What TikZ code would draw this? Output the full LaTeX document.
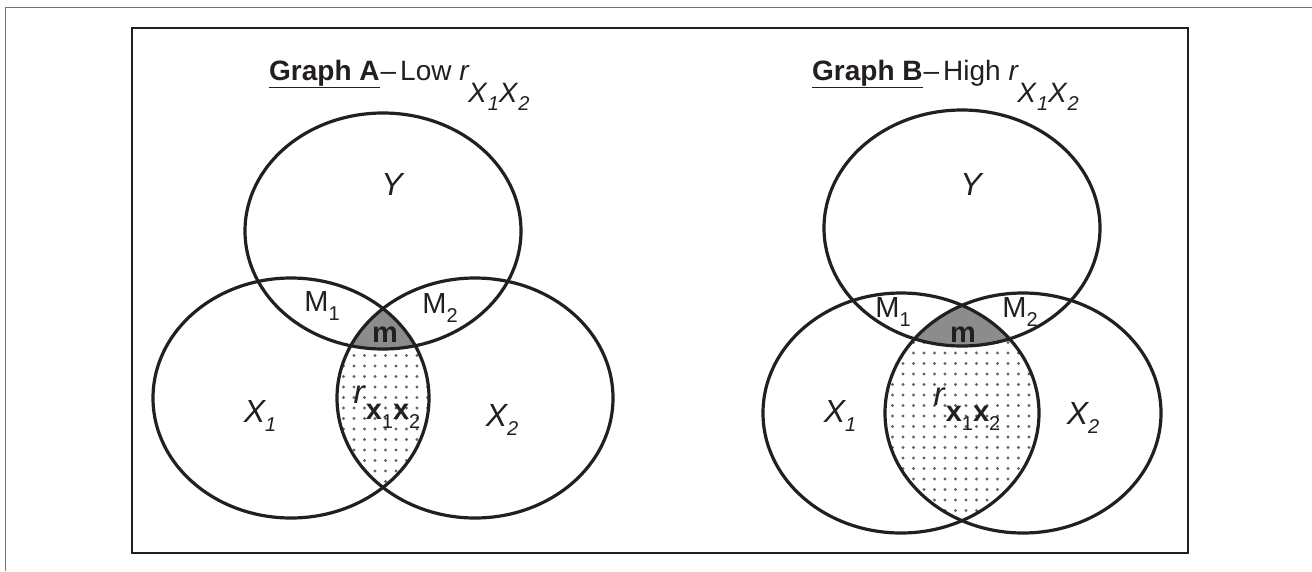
\documentclass[tikz,border=0pt]{standalone}
\usepackage{fontspec}
\setmainfont{Liberation Sans}
\definecolor{ink}{RGB}{35,31,32}
\definecolor{mgray}{RGB}{140,140,142}
\definecolor{dotgray}{RGB}{100,100,100}
\newcommand{\subdig}[1]{\raisebox{-0.3em}{\fontsize{20}{20}\selectfont #1}}

\begin{document}
\begin{tikzpicture}[x=1pt, y=-1pt,
    set/.style={draw=ink, line width=3.2pt},
    setx/.style={x radius=138, y radius=120},
    sety/.style={x radius=138, y radius=118},
    lbl/.style={font=\fontsize{32}{32}\selectfont\itshape, text=ink, inner sep=0pt},
    mlbl/.style={font=\fontsize{29}{29}\selectfont, text=ink, inner sep=0pt},
    mid/.style={font=\fontsize{29}{29}\selectfont\bfseries, text=ink, inner sep=0pt},
    heading/.style={font=\fontsize{28}{28}\selectfont, text=ink, inner sep=0pt, anchor=base west}
  ]
  \useasboundingbox (0,0) rectangle (1312,571);
  \fill[white] (0,0) rectangle (1312,571);
  \draw[black!55, line width=1.5pt] (5.5,571) -- (5.5,7.5) -- (1312,7.5);
  \draw[ink, line width=2.5pt] (132,28) rectangle (1188,553);

  \coordinate (ya) at (383,231);
  \coordinate (xa1) at (291,398);
  \coordinate (xa2) at (475,398);
  \coordinate (yb) at (962,228);
  \coordinate (xb1) at (901,413);
  \coordinate (xb2) at (1023,413);

  % Graph A
  \begin{scope}
    \clip (xa1) ellipse [setx];
    \clip (xa2) ellipse [setx];
    \foreach \i in {0,...,11}
      \foreach \j in {0,...,24}
        \fill[dotgray] (333+\i*10.5, 282+\j*10.5) circle (1.6);
    \fill[mgray] (ya) ellipse [sety];
  \end{scope}
  \draw[set] (ya) ellipse [sety];
  \draw[set] (xa1) ellipse [setx];
  \draw[set] (xa2) ellipse [setx];

  \node[heading] (tita) at (269,80) {\underline{\textbf{Graph A}}\kern1pt–\kern4pt Low \textit{r}\kern-0.05em\raisebox{-0.8em}{\textit{X}\subdig{\textit{1}}\textit{X}\subdig{\textit{2}}}};
  \node[lbl] (laya) at (392,184) {Y};
  \node[mlbl] (lm1a) at (322,306) {M\subdig{1}};
  \node[mlbl] (lm2a) at (440,308) {M\subdig{2}};
  \node[mid] (lma) at (385,335) {m};
  \node[lbl] (lxa1) at (260,416) {X\subdig{1}};
  \node[lbl] (lxa2) at (502,420) {X\subdig{2}};
  \node[inner sep=0pt, text=ink] (lra) at (387,407) {\fontsize{33}{33}\selectfont\textit{r}\raisebox{-0.5em}{\fontsize{29}{29}\selectfont\textbf{x}\subdig{1}\textbf{x}\subdig{2}}};

  % Graph B
  \begin{scope}
    \clip (xb1) ellipse [setx];
    \clip (xb2) ellipse [setx];
    \foreach \i in {0,...,15}
      \foreach \j in {0,...,24}
        \fill[dotgray] (882+\i*10.5, 290+\j*10.5) circle (1.6);
    \fill[mgray] (yb) ellipse [sety];
  \end{scope}
  \draw[set] (yb) ellipse [sety];
  \draw[set] (xb1) ellipse [setx];
  \draw[set] (xb2) ellipse [setx];

  \node[heading] (titb) at (812,80) {\underline{\textbf{Graph B}}\kern1pt–\kern4pt High \textit{r}\kern-0.05em\raisebox{-0.8em}{\textit{X}\subdig{\textit{1}}\textit{X}\subdig{\textit{2}}}};
  \node[lbl] (layb) at (971,184) {Y};
  \node[mlbl] (lm1b) at (893,312) {M\subdig{1}};
  \node[mlbl] (lm2b) at (1020,312) {M\subdig{2}};
  \node[mid] (lmb) at (963,335) {m};
  \node[lbl] (lxb1) at (840,416) {X\subdig{1}};
  \node[lbl] (lxb2) at (1083,418) {X\subdig{2}};
  \node[inner sep=0pt, text=ink] (lrb) at (967,409) {\fontsize{33}{33}\selectfont\textit{r}\raisebox{-0.5em}{\fontsize{29}{29}\selectfont\textbf{x}\subdig{1}\textbf{x}\subdig{2}}};
\end{tikzpicture}
\end{document}
